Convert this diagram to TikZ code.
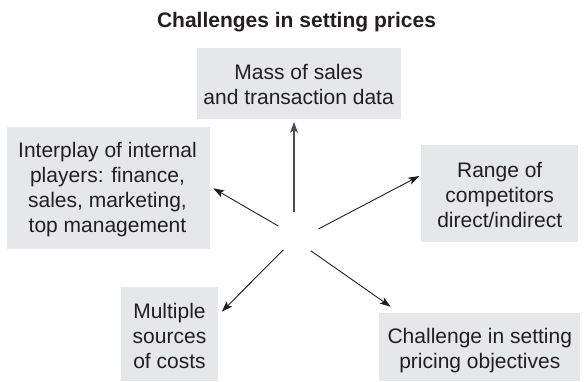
\documentclass[tikz,border=0pt]{standalone}
\usepackage{fontspec}
\setmainfont{Liberation Sans}
\usetikzlibrary{arrows.meta}
\definecolor{boxgray}{HTML}{E6E7E8}
\definecolor{ink}{HTML}{231F20}
\begin{document}
\begin{tikzpicture}[x=1pt,y=-1pt,
  box/.style={fill=boxgray,draw=none,inner sep=0pt},
  txt/.style={inner sep=0pt,align=center,text=ink,
    font=\fontsize{21}{25}\selectfont},
  arr/.style={draw=ink,line width=0.9pt,-{Stealth[length=11pt,width=7.5pt,inset=2.5pt]}},
  ttl/.style={text=ink,inner sep=0pt,font=\fontsize{21}{25}\selectfont\bfseries}]
\useasboundingbox (0,0) rectangle (588,381);
\node[ttl] (title) at (296.5,22) {Challenges in setting prices};
\node[box,minimum width=203.8pt,minimum height=71pt] (mass) at (298.6,83.8) {};
\node[txt] (masst) at (298.6,84.5) {Mass of sales\\and transaction data};
\node[box,minimum width=203.3pt,minimum height=122pt] (inter) at (108.3,188.3) {};
\node[txt] (intert) at (107.5,189.5) {Interplay of internal\\players: finance,\\sales, marketing,\\top management};
\node[box,minimum width=157.3pt,minimum height=96.7pt] (range) at (499.7,193.3) {};
\node[txt] (ranget) at (499.7,195) {Range of\\competitors\\direct/indirect};
\node[box,minimum width=97.7pt,minimum height=94.3pt] (mult) at (169.5,333.8) {};
\node[txt] (multt) at (169.5,335.5) {Multiple\\sources\\of costs};
\node[box,minimum width=201pt,minimum height=68.3pt] (chal) at (479.8,346.9) {};
\node[txt] (chalt) at (479.8,350.5) {Challenge in setting\\pricing objectives};
\coordinate (s1) at (294,211.7);
\coordinate (e1) at (294,121.7);
\coordinate (s2) at (278.3,226);
\coordinate (e2) at (213.3,188.3);
\coordinate (s3) at (318.3,229);
\coordinate (e3) at (419.3,176);
\coordinate (s4) at (283.3,250);
\coordinate (e4) at (221.7,311.7);
\coordinate (s5) at (310.7,250.7);
\coordinate (e5) at (390.7,306.7);
\draw[arr,line width=1.4pt,draw=ink!80] (s1) -- (e1);
\draw[arr] (s2) -- (e2);
\draw[arr] (s3) -- (e3);
\draw[arr] (s4) -- (e4);
\draw[arr] (s5) -- (e5);
\end{tikzpicture}
\end{document}
